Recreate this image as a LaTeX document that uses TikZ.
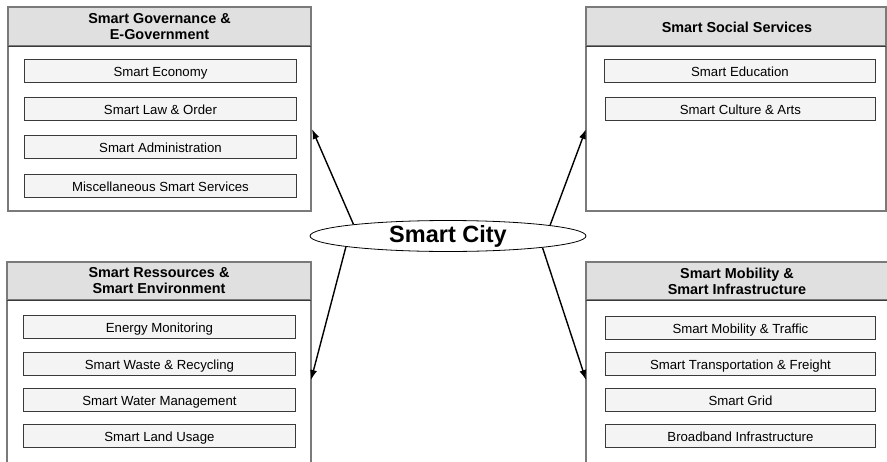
\documentclass[tikz,border=0pt]{standalone}
\usepackage{fontspec}
\setmainfont{Liberation Sans}
\usetikzlibrary{shapes.geometric,arrows.meta}
\definecolor{hdrfill}{HTML}{E0E0E0}
\definecolor{itemfill}{HTML}{F3F4F3}
\definecolor{outerline}{HTML}{7A7A7A}
\definecolor{itemline}{HTML}{3A3A3A}
\tikzset{
  x=1pt,y=-1pt,
  outerbox/.style={draw=outerline,line width=1.3pt,fill=white},
  hdrbox/.style={draw=outerline,line width=1.3pt,fill=hdrfill},
  hdrline/.style={draw=itemline,line width=1pt},
  hdrtext/.style={font=\fontsize{14.4}{16}\selectfont\bfseries,align=center,inner sep=0pt},
  itembox/.style={draw=itemline,line width=0.9pt,fill=itemfill,minimum height=22.5pt,inner sep=0pt,text height=12.5pt,text depth=0pt,font=\fontsize{13.2}{15}\selectfont,anchor=north west},
  conn/.style={line width=1.4pt,-{Latex[length=10pt,width=7pt]}},
}
\begin{document}
\begin{tikzpicture}
\useasboundingbox (0,0) rectangle (887,461);
\clip (0,0) rectangle (887,461);
% Top left
\draw[outerbox] (8,7) rectangle (311,211);
\draw[hdrbox] (8,7) rectangle (311,46);
\draw[hdrline] (8,46) -- (311,46);
\node[hdrtext] (tlh) at (159.5,27) {Smart Governance \&\\E-Government};
\node[itembox,minimum width=272pt] (tl1) at (24,59) {Smart Economy};
\node[itembox,minimum width=272pt] (tl2) at (24,97) {Smart Law \& Order};
\node[itembox,minimum width=272pt] (tl3) at (24,135) {Smart Administration};
\node[itembox,minimum width=272pt] (tl4) at (24,174) {Miscellaneous Smart Services};
\coordinate (tlA) at (312,129);
% Top right
\draw[outerbox] (586,7) rectangle (886,211);
\draw[hdrbox] (586,7) rectangle (886,46);
\draw[hdrline] (586,46) -- (886,46);
\node[hdrtext] (trh) at (737,27) {Smart Social Services};
\node[itembox,minimum width=271pt] (tr1) at (604,59) {Smart Education};
\node[itembox,minimum width=270pt] (tr2) at (605,97) {Smart Culture \& Arts};
\coordinate (trA) at (586,129);
% Bottom left
\draw[outerbox] (7,262) rectangle (311,480);
\draw[hdrbox] (7,262) rectangle (311,300);
\draw[hdrline] (7,300) -- (311,300);
\node[hdrtext] (blh) at (159,281) {Smart Ressources \&\\Smart Environment};
\node[itembox,minimum width=272pt] (bl1) at (23,315) {Energy Monitoring};
\node[itembox,minimum width=272pt] (bl2) at (23,352) {Smart Waste \& Recycling};
\node[itembox,minimum width=272pt] (bl3) at (23,388) {Smart Water Management};
\node[itembox,minimum width=272pt] (bl4) at (23,424) {Smart Land Usage};
\coordinate (blA) at (311,380);
% Bottom right
\draw[outerbox] (586,262) rectangle (900,480);
\draw[hdrbox] (586,262) rectangle (900,300);
\draw[hdrline] (586,300) -- (900,300);
\node[hdrtext] (brh) at (737,281) {Smart Mobility \&\\Smart Infrastructure};
\node[itembox,minimum width=270pt] (br1) at (605,316) {Smart Mobility \& Traffic};
\node[itembox,minimum width=270pt] (br2) at (605,352) {Smart Transportation \& Freight};
\node[itembox,minimum width=270pt] (br3) at (605,388) {Smart Grid};
\node[itembox,minimum width=270pt] (br4) at (605,424) {Broadband Infrastructure};
\coordinate (brA) at (586,380);
% Center
\node[ellipse,draw,line width=0.8pt,fill=white,minimum width=276pt,minimum height=30pt,inner sep=0pt,font=\fontsize{23.5}{26}\selectfont\bfseries] (city) at (448,236) {Smart City};
\draw[conn] (city.173.7) -- (tlA);
\draw[conn] (city.6.3) -- (trA);
\draw[conn] (city.186.3) -- (blA);
\draw[conn] (city.353.7) -- (brA);
\end{tikzpicture}
\end{document}
